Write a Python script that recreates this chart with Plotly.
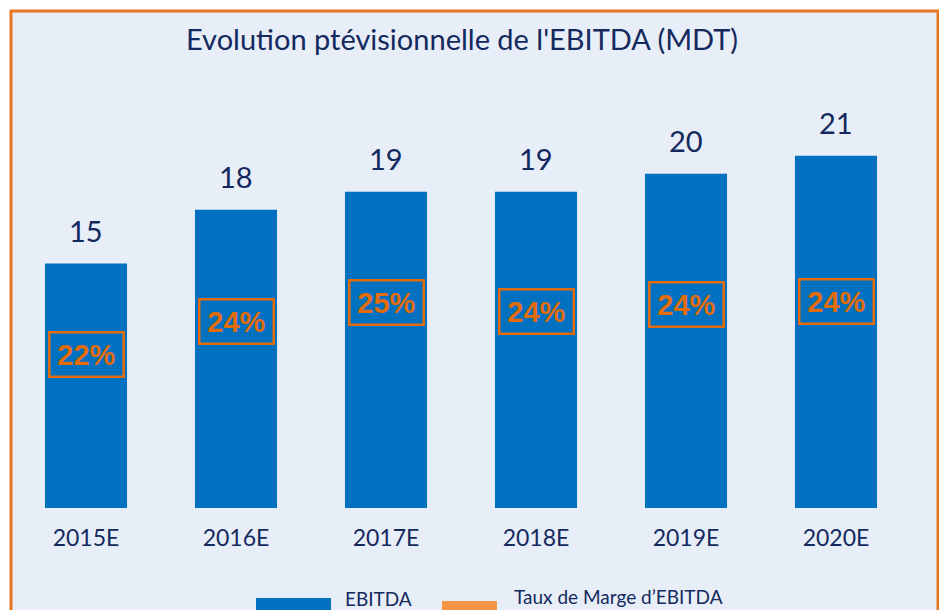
import plotly.graph_objects as go

# EBITDA forecast (MDT) and EBITDA margin per year
years = ["2015E", "2016E", "2017E", "2018E", "2019E", "2020E"]
ebitda = [15, 18, 19, 19, 20, 21]
margin = ["22%", "24%", "25%", "24%", "24%", "24%"]
margin_pos = [0.63, 0.625, 0.65, 0.62, 0.61, 0.585]  # height of margin box as share of bar

W, H = 939, 610
ML, MR, MT, MB = 11, 28, 100, 102
Y0, Y1 = 1.4, 24.1

BLUE = "#0070C0"
ORANGE_TXT = "#E36C0A"
ORANGE_LEG = "#F79646"
BORDER = "#E87722"
NAVY = "#14295E"
BG = "#E7EEF7"
FONT = "Lato"

pw = W - ML - MR
ph = H - MT - MB


def px_x(px):
    return (px - ML) / pw


def px_y(py):
    return (H - MB - py) / ph


fig = go.Figure()
fig.add_trace(go.Bar(
    x=years, y=ebitda, marker=dict(color=BLUE, line=dict(width=0)),
    width=0.547, name="EBITDA", showlegend=False,
))

# value labels above the bars
for yr, v in zip(years, ebitda):
    fig.add_annotation(
        x=yr, y=v, text=str(v), showarrow=False, yanchor="bottom", yshift=14,
        font=dict(family=FONT, size=29, color=NAVY),
    )

# margin boxes inside the bars
for yr, v, m, f in zip(years, ebitda, margin, margin_pos):
    fig.add_annotation(
        x=yr, y=Y0 + f * (v - Y0), text=f"<b>{m}</b>", showarrow=False,
        font=dict(family="Liberation Sans", size=29, color=ORANGE_TXT),
        bordercolor=ORANGE_TXT, borderwidth=2.5, borderpad=5,
        width=62, height=32,
    )

shapes = [
    # panel background and orange frame
    dict(type="rect", xref="paper", yref="paper", layer="below",
         x0=px_x(11), x1=px_x(938), y0=px_y(640), y1=px_y(11),
         fillcolor=BG, line=dict(color=BORDER, width=3)),
    # legend swatches
    dict(type="rect", xref="paper", yref="paper",
         x0=px_x(256), x1=px_x(331), y0=px_y(612), y1=px_y(598),
         fillcolor=BLUE, line=dict(width=0)),
    dict(type="rect", xref="paper", yref="paper",
         x0=px_x(442), x1=px_x(497), y0=px_y(612), y1=px_y(601),
         fillcolor=ORANGE_LEG, line=dict(width=0)),
]

legend_labels = [("EBITDA", 343, 598), ("Taux de Marge d\u2019EBITDA", 512, 596)]
for txt, lx, ly in legend_labels:
    fig.add_annotation(
        xref="paper", yref="paper", x=px_x(lx), y=px_y(ly), xanchor="left",
        yanchor="middle", text=txt, showarrow=False,
        font=dict(family=FONT, size=19, color=NAVY),
    )

fig.add_annotation(
    xref="paper", yref="paper", x=px_x(462), y=px_y(38), xanchor="center",
    yanchor="middle", text="Evolution pt\u00e9visionnelle de l'EBITDA (MDT)",
    showarrow=False, font=dict(family=FONT, size=29, color=NAVY),
)

fig.update_layout(
    width=W, height=H, margin=dict(l=ML, r=MR, t=MT, b=MB),
    paper_bgcolor="white", plot_bgcolor="rgba(0,0,0,0)",
    shapes=shapes, bargap=0.453,
    xaxis=dict(showgrid=False, showline=False, zeroline=False, ticks="",
               tickfont=dict(family=FONT, size=23, color=NAVY), ticklabelstandoff=14),
    yaxis=dict(range=[Y0, Y1], visible=False),
    showlegend=False,
)

fig.write_html("out.html")
